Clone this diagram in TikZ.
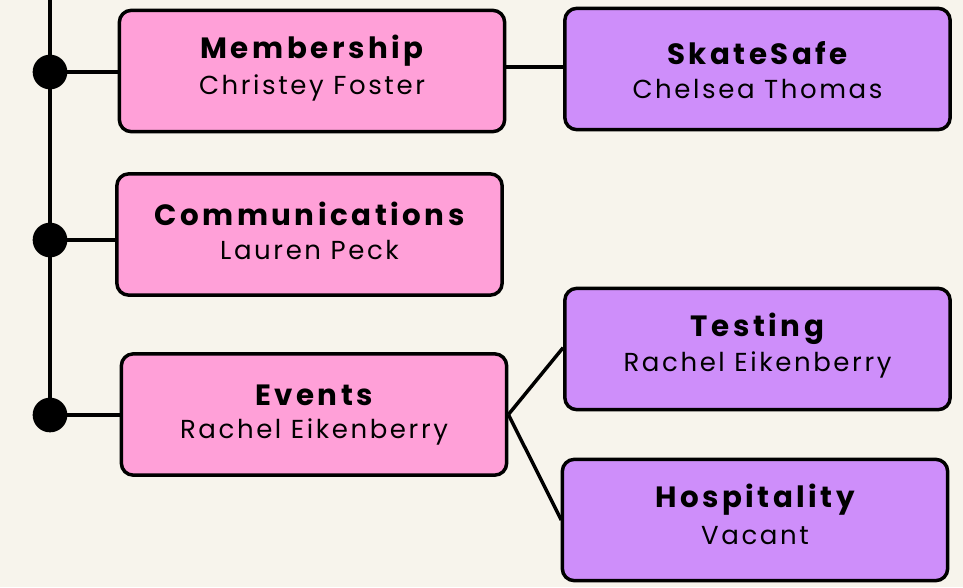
\documentclass[tikz,border=0pt]{standalone}
\usepackage{fontspec}
\setmainfont{Poppins}
\newfontfamily\ttlfont{Poppins}[LetterSpace=12]
\newfontfamily\nmfont{Poppins}[LetterSpace=10]
\definecolor{bgc}{RGB}{247,244,236}
\definecolor{pinkc}{RGB}{255,160,216}
\definecolor{purplec}{RGB}{206,142,250}
\tikzset{
  x=0.75pt, y=-0.75pt,
  box/.style={draw=black, line width=2.6pt, rounded corners=9pt, minimum width=289pt, minimum height=91pt, inner sep=0pt},
  pinkbox/.style={box, fill=pinkc},
  purplebox/.style={box, fill=purplec},
  ttl/.style={font=\ttlfont\fontsize{22}{26}\selectfont\bfseries, inner sep=0pt},
  nm/.style={font=\nmfont\fontsize{19.5}{23}\selectfont, inner sep=0pt},
  conn/.style={line width=2.6pt},
  dot/.style={circle, fill=black, minimum size=26pt, inner sep=0pt}
}
\begin{document}
\begin{tikzpicture}
\fill[bgc] (0,0) rectangle (963,587);
\useasboundingbox (0,0) rectangle (963,587);
% boxes
\node[pinkbox] (mem) at (312,71) {};
\node[ttl] (memt) at (312,51) {Membership};
\node[nm] (memn) at (312,88) {Christey Foster};
\node[purplebox] (ss) at (757.5,69) {};
\node[ttl] (sst) at (757.5,53) {SkateSafe};
\node[nm] (ssn) at (757.5,89) {Chelsea Thomas};
\node[pinkbox] (com) at (309.5,234.5) {};
\node[ttl] (comt) at (309.5,214) {Communications};
\node[nm] (comn) at (309.5,250) {Lauren Peck};
\node[pinkbox] (ev) at (314,414.5) {};
\node[ttl] (evt) at (314,395) {Events};
\node[nm] (evn) at (314,432) {Rachel Eikenberry};
\node[purplebox] (te) at (757.5,349) {};
\node[ttl] (tet) at (757.5,329) {Testing};
\node[nm] (ten) at (757.5,365) {Rachel Eikenberry};
\node[purplebox] (ho) at (755,520) {};
\node[ttl] (hot) at (755,500) {Hospitality};
\node[nm] (hon) at (755,536) {Vacant};
% spine
\coordinate (top) at (50,0);
\node[dot] (d1) at (50,72) {};
\node[dot] (d2) at (50,240) {};
\node[dot] (d3) at (50,415) {};
\draw[conn] (top) -- (d3.center);
\draw[conn] (d1.center) -- (d1.center -| mem.west);
\draw[conn] (d2.center) -- (d2.center -| com.west);
\draw[conn] (d3.center) -- (d3.center -| ev.west);
\draw[conn] ([yshift=3pt]mem.east) -- ([yshift=3pt]mem.east -| ss.west);
\draw[conn] (ev.east) -- ([yshift=1pt]te.west);
\draw[conn] (ev.east) -- ([xshift=0.5pt]ho.west);
\end{tikzpicture}
\end{document}
